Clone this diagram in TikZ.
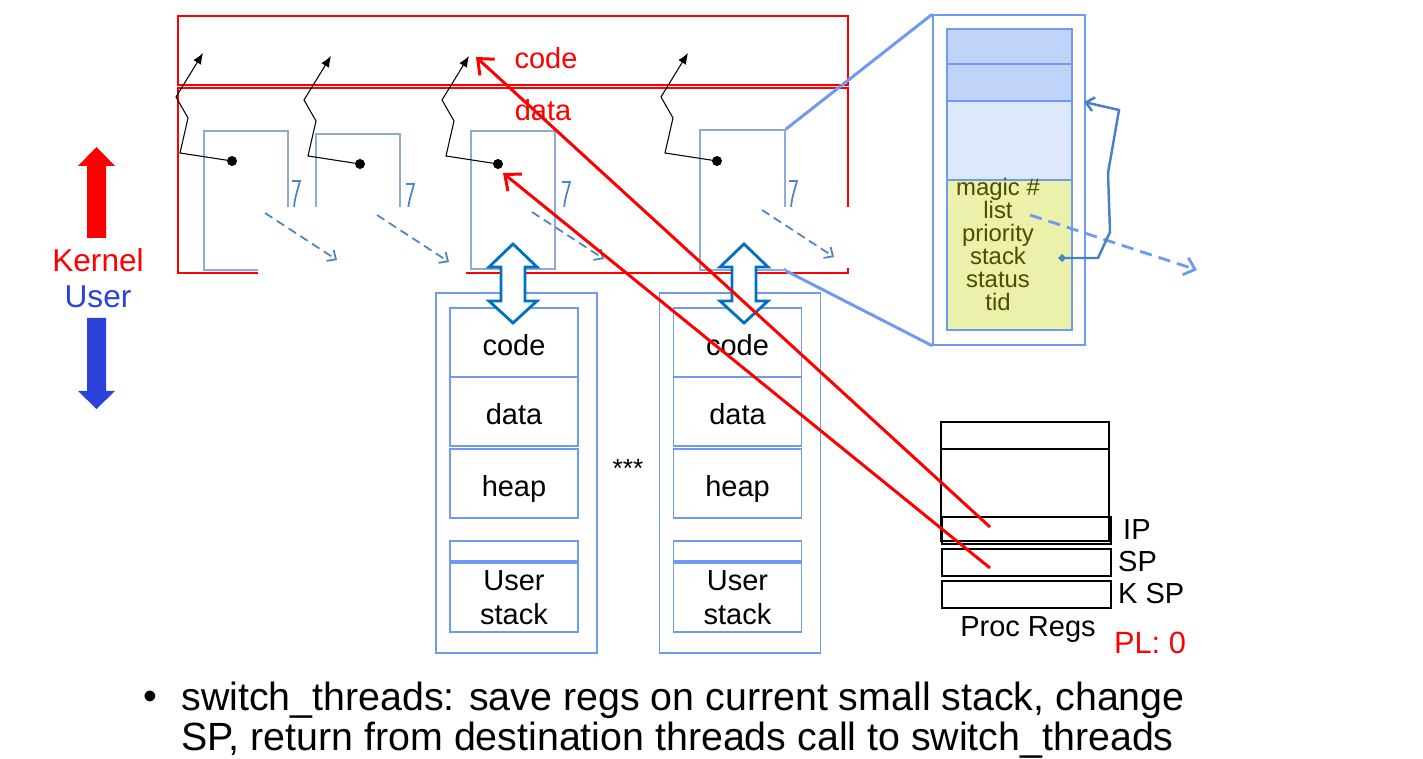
\documentclass[tikz,border=0pt]{standalone}
\usepackage{fontspec}
\setmainfont{Liberation Sans}
\usetikzlibrary{arrows.meta}
\definecolor{segred}{RGB}{255,0,0}
\definecolor{thblue}{RGB}{143,170,215}
\definecolor{dashblue}{RGB}{80,130,200}
\definecolor{ublue}{RGB}{110,155,240}
\definecolor{swblue}{RGB}{0,112,192}
\definecolor{tcbdark}{RGB}{192,212,250}
\definecolor{tcblight}{RGB}{221,232,252}
\definecolor{tcbyellow}{RGB}{235,240,170}
\definecolor{tcbtext}{RGB}{77,77,0}
\definecolor{linkblue}{RGB}{74,127,200}
\definecolor{userblue}{RGB}{45,65,220}

\begin{document}
\begin{tikzpicture}[x=0.02cm,y=-0.02cm]
	\tikzstyle{seg}=[draw=segred,line width=0.9pt,inner sep=0pt,minimum width=13.4cm]
	\tikzstyle{thbox}=[draw=thblue,line width=0.8pt,inner sep=0pt,minimum width=1.68cm]
	\tikzstyle{dotn}=[circle,fill=black,inner sep=0pt,minimum size=0.2cm]
	\tikzstyle{squig}=[black,line width=0.6pt,-{Latex[length=2.2mm,width=1.8mm]}]
	\tikzstyle{dasharr}=[dashblue,line width=1pt,dash pattern=on 5pt off 3pt,-{Straight Barb[length=1.4mm,width=2.6mm]}]
	\tikzstyle{ubox}=[draw=ublue,line width=0.9pt,inner sep=0pt,minimum width=3.22cm,minimum height=7.2cm]
	\tikzstyle{useg}=[draw=ublue,line width=0.9pt,inner sep=0pt,minimum width=2.56cm,align=center,font=\fontsize{16.5}{19}\selectfont]
	\tikzstyle{usegtxt}=[useg,text height=1.6em,text depth=0.16em]
	\tikzstyle{tcbrow}=[draw=ublue,line width=1.2pt,inner sep=0pt,minimum width=2.5cm]
	\tikzstyle{zoomline}=[ublue,line width=1.7pt]
	\tikzstyle{reg}=[draw=black,line width=0.8pt,inner sep=0pt,minimum width=3.38cm,minimum height=0.54cm]
	\tikzstyle{regtext}=[font=\fontsize{16.5}{19}\selectfont]
	\tikzstyle{redarr}=[segred,line width=1.7pt,-{Straight Barb[length=2.6mm,width=4.4mm]}]

	\useasboundingbox (0,0) rectangle (1423,759);

	% kernel segments
	\node[seg,minimum height=1.38cm] (codeseg) at (513,50.5) {};
	\node[seg,minimum height=3.7cm] (dataseg) at (513,180.5) {};
	\node[text=segred,font=\fontsize{16.5}{19}\selectfont] (codelbl) at (546,58) {code};
	\node[text=segred,font=\fontsize{16.5}{19}\selectfont] (datalbl) at (543,110) {data};

	% thread stacks in kernel
	\node[thbox,minimum height=2.78cm] (th1) at (246,200.5) {};
	\node[thbox,minimum height=2.72cm] (th2) at (358,202) {};
	\node[thbox,minimum height=2.76cm] (th3) at (513,200) {};
	\node[thbox,minimum width=1.7cm,minimum height=2.8cm] (th4) at (742.5,200) {};
	\foreach \i/\x/\y in {1/232/161,2/360/164,3/498/164,4/717/161} {
		\node[dotn] (p\i) at (\x,\y) {};
		\coordinate (t\i) at (\x-29,\y-108);
		\draw[squig] (p\i.center) -- ++(-52,-8) -- ++(8,-35) -- ++(-12,-21) -- (t\i);
	}
	\foreach \x/\y in {296/192,410/195,566/193,793/192}
		\draw[dashblue,line width=1pt] (\x-4,\y-11) -- (\x+4,\y-11) .. controls (\x+1,\y) and (\x-2,\y+8) .. (\x-2,\y+18);

	% white cut-outs
	\fill[white] (258,207) rectangle (466,278);
	\fill[white] (558,207) rectangle (690,271);
	\fill[white] (725,207) rectangle (851,268);
	\foreach \i/\x/\y in {1/265/213,2/377/215,3/532/212,4/762/210} {
		\coordinate (ds\i) at (\x,\y);
		\coordinate (de\i) at (\x+72,\y+47);
		\draw[dasharr] (ds\i) -- (de\i);
	}

	% kernel / user
	\fill[segred] (87,238) -- (87,166) -- (78,166) -- (96.5,147) -- (115,166) -- (106,166) -- (106,238) -- cycle;
	\fill[userblue] (87,318) -- (87,391) -- (78,391) -- (96.5,409) -- (115,391) -- (106,391) -- (106,318) -- cycle;
	\node[text=segred,font=\fontsize{18}{20}\selectfont] (klbl) at (98,260) {Kernel};
	\node[text=userblue,font=\fontsize{18}{20}\selectfont] (ulbl) at (98,297) {User};

	% user processes
	\foreach \cx/\n in {514/L,737.5/R} {
		\node[ubox] (proc\n) at (\cx+2.5,473) {};
		\node[usegtxt,minimum height=1.38cm] (code\n) at (\cx,342.5) {code};
		\node[usegtxt,minimum height=1.38cm] (data\n) at (\cx,411.5) {data};
		\node[usegtxt,minimum height=1.38cm] (heap\n) at (\cx,483.5) {heap};
		\node[useg,minimum height=0.4cm] (gap\n) at (\cx,551) {};
		\node[useg,minimum height=1.38cm] (stack\n) at (\cx,597.5) {User\\stack};
	}
	\node[font=\fontsize{15}{17}\selectfont] (dots) at (628,468) {***};
	\foreach \cx in {513,744}
		\draw[swblue,line width=1.6pt,fill=white,line join=miter] (\cx,244) -- (\cx+24,267) -- (\cx+12,267) -- (\cx+12,301) -- (\cx+24,301) -- (\cx,323) -- (\cx-24,301) -- (\cx-12,301) -- (\cx-12,267) -- (\cx-24,267) -- cycle;

	% thread control block
	\node[draw=ublue,line width=0.9pt,inner sep=0pt,minimum width=3.04cm,minimum height=6.6cm] (tcb) at (1009,180) {};
	\node[tcbrow,fill=tcbdark,minimum height=0.7cm] (r1) at (1009.5,46.5) {};
	\node[tcbrow,fill=tcbdark,minimum height=0.74cm] (r2) at (1009.5,82.5) {};
	\node[tcbrow,fill=tcblight,minimum height=1.58cm] (r3) at (1009.5,140.5) {};
	\node[tcbrow,fill=tcbyellow,minimum height=3cm] (r4) at (1009.5,255) {};
	\node[text=tcbtext,align=center,font=\fontsize{13.6}{13.1}\selectfont] (fields) at (998,244.5) {magic \#\\list\\priority\\stack\\status\\tid};
	\draw[zoomline] (th4.north east) -- (tcb.north west);
	\draw[zoomline] (th4.south east) -- (tcb.south west);
	\coordinate (lists) at (1030,215);
	\coordinate (listt) at (1197,270);
	\draw[ublue,line width=1.6pt,dash pattern=on 7pt off 4pt,-{Straight Barb[length=2mm,width=3.6mm]}] (lists) -- (listt);
	\coordinate (stks) at (1058,258);
	\coordinate (stkt) at (1084,102);
	\draw[linkblue,line width=1.4pt,{Diamond[length=1.6mm,width=1.6mm,fill=linkblue!60!green!60]}-{Straight Barb[length=1.6mm,width=2.8mm]}] (stks) -- (1098,258) -- (1110,232) -- (1108,173) -- (1119,110) -- (stkt);

	% processor registers
	\node[draw=black,line width=0.8pt,inner sep=0pt,minimum width=3.36cm,minimum height=2.38cm] (regs) at (1025,481.5) {};
	\node[draw=black,line width=0.8pt,inner sep=0pt,minimum width=3.36cm,minimum height=0.54cm] (rtop) at (1025,435.5) {};
	\node[reg] (ip) at (1026.5,530.5) {};
	\node[reg] (sp) at (1026.5,562.5) {};
	\node[reg] (ksp) at (1026.5,594.5) {};
	\node[regtext,anchor=west] (iplbl) at (1117,530) {IP};
	\node[regtext,anchor=west] (splbl) at (1112,562) {SP};
	\node[regtext,anchor=west] (ksplbl) at (1112,594) {K SP};
	\node[regtext] (rlbl) at (1028,630) {Proc Regs};
	\node[text=segred,font=\fontsize{17.5}{20}\selectfont] (pl) at (1150,643) {PL: 0};

	% saved IP and SP
	\coordinate (ipsrc) at (990,527);
	\coordinate (spsrc) at (990,568);
	\coordinate (codetgt) at (476,57);
	\coordinate (stktgt) at (503,173);
	\draw[redarr] (ipsrc) -- (codetgt);
	\draw[redarr] (spsrc) -- (stktgt);

	% note
	\node[font=\fontsize{22.4}{22.8}\selectfont] (bul) at (150,700) {•};
	\node[font=\fontsize{22.4}{22.8}\selectfont,anchor=west,align=left,inner sep=0pt] (note) at (181,720) {switch\_threads: save regs on current small stack, change\\SP, return from destination threads call to switch\_threads};
\end{tikzpicture}
\end{document}
